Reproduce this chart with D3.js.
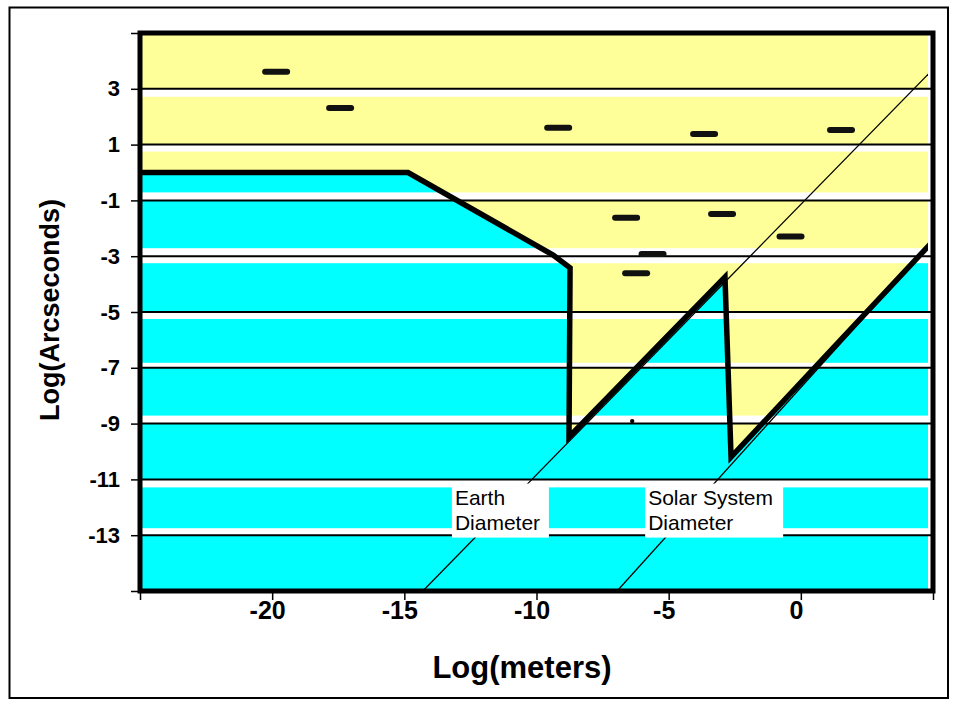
<!DOCTYPE html>
<html><head><meta charset="utf-8">
<script src="https://cdn.jsdelivr.net/npm/d3@7"></script>
<style>body{margin:0;background:#fff}svg{display:block}</style>
</head><body>
<svg id="chart" width="956" height="704"></svg>
<script>
// ---------------- data ----------------
const xTickValues = [-25, -20, -15, -10, -5, 0, 5];
const xTickLabels = ["", "-20", "-15", "-10", "-5", "0", ""];
const yTickValues = [5, 3, 1, -1, -3, -5, -7, -9, -11, -13, -15];
const yTickLabels = ["", "3", "1", "-1", "-3", "-5", "-7", "-9", "-11", "-13", ""];
const gridValues = [3, 1, -1, -3, -5, -7, -9, -11, -13];
// boundary between the yellow (above) and cyan (below) regions
const boundaryX = [-25, -14.86, -9.37, -8.73, -8.77, -2.87, -2.64, 5];
const boundaryY = [0, 0, -2.96, -3.42, -9.48, -3.75, -10.2, -2.46];
// reference lines
const earthLineX = [-14.3, 5];
const earthLineY = [-15, 3.7];
const solarLineX = [-6.95, 5];
const solarLineY = [-15, -2.46];
// short horizontal markers
const dashX = [-19.85, -17.43, -9.18, -3.66, 1.52, -6.61, -2.98, -5.61, -6.23, -0.39];
const dashY = [3.61, 2.31, 1.6, 1.38, 1.52, -1.62, -1.49, -2.92, -3.61, -2.29];
const dotX = [-6.38];
const dotY = [-8.91];
// annotation labels (anchor = top-left of box, in data units)
const labelLines = [["Earth", "Diameter"], ["Solar System", "Diameter"]];
const labelX = [-13.2, -5.89];
const labelY = [-11.15, -11.15];
const xTitle = "Log(meters)";
const yTitle = "Log(Arcseconds)";

// ---------------- style ----------------
const YELLOW = "#FFFF99", CYAN = "#00FFFF";
const bandAbove = {"3":0, "1":0, "-1":8, "-3":8, "-5":0, "-7":5, "-9":8, "-11":0, "-13":7};
const bandBelow = {"3":8, "1":7, "-1":0, "-3":7, "-5":7, "-7":0, "-9":0, "-11":8, "-13":0};
const labelBoxW = [97, 138], labelBoxH = 54;

const svg = d3.select("#chart");
const x = d3.scaleLinear().domain([-25, 5]).range([140, 933]);
const y = d3.scaleLinear().domain([-15, 5]).range([591, 33]);

// outer frame
svg.append("rect").attr("x", 9.5).attr("y", 7.5).attr("width", 938.5).attr("height", 690.5)
  .attr("fill", "none").attr("stroke", "#000").attr("stroke-width", 2);

svg.append("clipPath").attr("id", "plotclip").append("rect")
  .attr("x", x(-25)).attr("y", y(5)).attr("width", x(5) - x(-25) - 5).attr("height", y(-15) - y(5));

const plot = svg.append("g").attr("clip-path", "url(#plotclip)");
const bpts = boundaryX.map((d, i) => [d, boundaryY[i]]);

// cyan background then yellow area above boundary
plot.append("rect").attr("x", x(-25)).attr("y", y(5)).attr("width", x(5) - x(-25)).attr("height", y(-15) - y(5)).attr("fill", CYAN);
const area = d3.area().x(d => x(d[0])).y0(y(5)).y1(d => y(d[1]));
plot.append("path").datum(bpts).attr("d", area).attr("fill", YELLOW);

// white bands next to the gridlines
gridValues.forEach(v => {
  const a = bandAbove[String(v)], b = bandBelow[String(v)];
  plot.append("rect").attr("x", x(-25)).attr("width", x(5) - x(-25))
    .attr("y", y(v) - a).attr("height", a + b).attr("fill", "#fff");
});

// gridlines
svg.append("g").selectAll("line").data(gridValues).join("line")
  .attr("x1", x(-25)).attr("x2", x(5)).attr("y1", d => y(d)).attr("y2", d => y(d))
  .attr("stroke", "#000").attr("stroke-width", 2);

// thin reference lines
const line = d3.line().x(d => x(d[0])).y(d => y(d[1]));
[[earthLineX, earthLineY], [solarLineX, solarLineY]].forEach(([lx, ly]) => {
  plot.append("path").datum(lx.map((d, i) => [d, ly[i]])).attr("d", line)
    .attr("fill", "none").attr("stroke", "#000").attr("stroke-width", 1.3);
});

// thick boundary
plot.append("path").datum(bpts).attr("d", line).attr("fill", "none")
  .attr("stroke", "#000").attr("stroke-width", 5.5).attr("stroke-linejoin", "miter");

// label boxes
labelLines.forEach((lines, i) => {
  const bx = x(labelX[i]), by = y(labelY[i]);
  svg.append("rect").attr("x", bx).attr("y", by).attr("width", labelBoxW[i]).attr("height", labelBoxH).attr("fill", "#fff");
  const t = svg.append("text").attr("font-family", "Liberation Sans, Arial, sans-serif").attr("font-size", 21).attr("fill", "#000");
  lines.forEach((s, k) => t.append("tspan").attr("x", bx + 3).attr("y", by + 21 + k * 25).text(s));
});

// dashes and dot
svg.append("g").selectAll("line").data(dashX.map((d, i) => [d, dashY[i]])).join("line")
  .attr("x1", d => x(d[0]) - 11).attr("x2", d => x(d[0]) + 11)
  .attr("y1", d => y(d[1])).attr("y2", d => y(d[1]))
  .attr("stroke", "#111").attr("stroke-width", 6).attr("stroke-linecap", "round");
svg.append("g").selectAll("circle").data(dotX.map((d, i) => [d, dotY[i]])).join("circle")
  .attr("cx", d => x(d[0])).attr("cy", d => y(d[1])).attr("r", 2.2).attr("fill", "#000");

// plot borders
svg.append("rect").attr("x", x(-25)).attr("y", y(5)).attr("width", x(5) - x(-25)).attr("height", y(-15) - y(5))
  .attr("fill", "none").attr("stroke", "#000").attr("stroke-width", 5);

// axes
const fontF = "Liberation Sans, Arial, sans-serif";
const xAxis = svg.append("g").attr("transform", `translate(0,${y(-15)})`)
  .call(d3.axisBottom(x).tickValues(xTickValues).tickFormat((d, i) => xTickLabels[i]).tickSize(9).tickPadding(1).tickSizeOuter(0));
const yAxis = svg.append("g").attr("transform", `translate(${x(-25)},0)`)
  .call(d3.axisLeft(y).tickValues(yTickValues).tickFormat((d, i) => yTickLabels[i]).tickSize(9).tickPadding(11).tickSizeOuter(0));
[xAxis, yAxis].forEach(g => {
  g.select(".domain").remove();
  g.selectAll(".tick line").attr("stroke", "#000").attr("stroke-width", 1.5);
  g.selectAll(".tick text").attr("font-family", fontF).attr("font-weight", "bold").attr("fill", "#000");
});
xAxis.selectAll(".tick text").attr("font-size", 25).attr("dx", "-0.2em");
yAxis.selectAll(".tick text").attr("font-size", 22);

// titles
svg.append("text").attr("x", 522).attr("y", 678).attr("text-anchor", "middle")
  .attr("font-family", fontF).attr("font-weight", "bold").attr("font-size", 31).text(xTitle);
svg.append("text").attr("transform", "translate(59,310) rotate(-90)").attr("text-anchor", "middle")
  .attr("font-family", fontF).attr("font-weight", "bold").attr("font-size", 27).text(yTitle);
</script>
</body></html>
